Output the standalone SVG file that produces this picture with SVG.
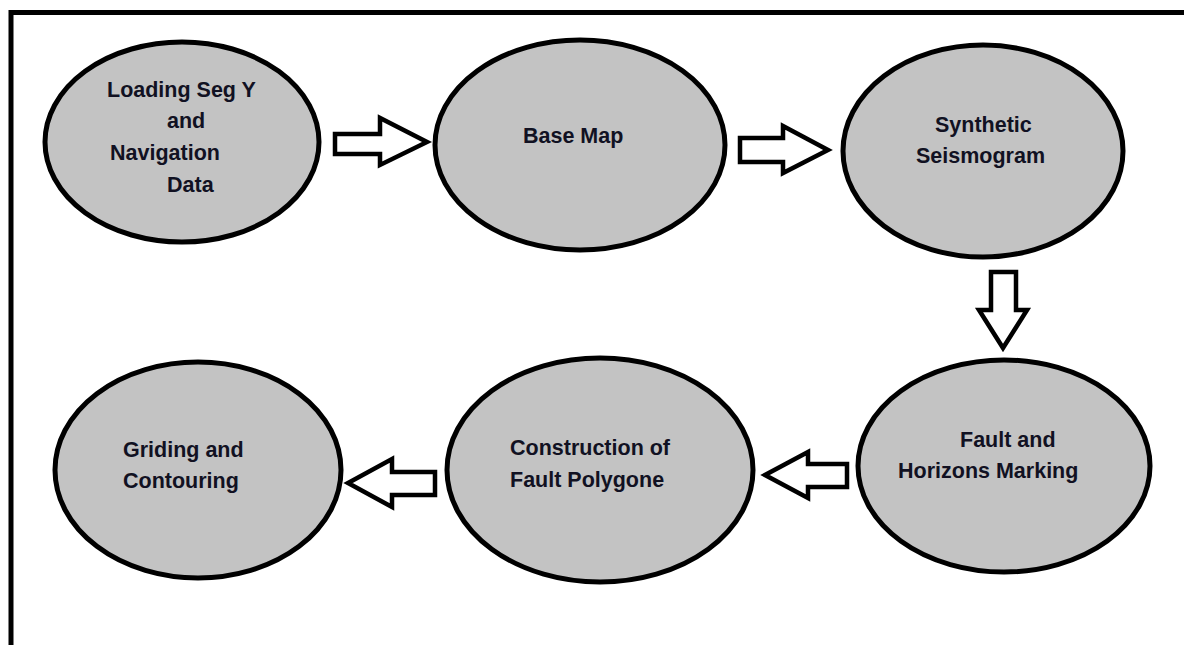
<svg xmlns="http://www.w3.org/2000/svg" width="1184" height="645" viewBox="0 0 1184 645">
<style>
.node ellipse{fill:#c3c3c3;stroke:#000;stroke-width:5}
.node text{font-family:"Liberation Sans",Arial,sans-serif;font-weight:bold;font-size:21.5px;fill:#111122}
.arrow{fill:#fff;stroke:#000;stroke-width:4.5;stroke-linejoin:miter}
</style>
<rect width="1184" height="645" fill="#fff"/>
<path d="M11,645 V12.5 H1184" fill="none" stroke="#000" stroke-width="5"/>
<g id="n1" class="node">
<ellipse cx="182" cy="142" rx="137" ry="100"/>
<text x="107" y="97">Loading Seg Y</text>
<text x="167" y="128">and</text>
<text x="110" y="160">Navigation</text>
<text x="167" y="192">Data</text>
</g>
<g id="n2" class="node">
<ellipse cx="580" cy="145" rx="145" ry="105"/>
<text x="523" y="143">Base Map</text>
</g>
<g id="n3" class="node">
<ellipse cx="983" cy="151" rx="140" ry="106"/>
<text x="935" y="132">Synthetic</text>
<text x="916" y="163">Seismogram</text>
</g>
<g id="n4" class="node">
<ellipse cx="1004" cy="466" rx="146" ry="106"/>
<text x="960" y="447">Fault and</text>
<text x="898" y="478">Horizons Marking</text>
</g>
<g id="n5" class="node">
<ellipse cx="600" cy="470" rx="153" ry="112"/>
<text x="510" y="455">Construction of</text>
<text x="510" y="487">Fault Polygone</text>
</g>
<g id="n6" class="node">
<ellipse cx="198" cy="470" rx="143" ry="108"/>
<text x="123" y="457">Griding and</text>
<text x="123" y="488">Contouring</text>
</g>
<g id="connectors">
<polygon class="arrow" points="335,134 380,134 380,118 427,142 380,165 380,154 335,154"/>
<polygon class="arrow" points="740,138 783,138 783,126 828,150 783,173 783,162 740,162"/>
<polygon class="arrow" points="991,272 1016,272 1016,310 1027,310 1003,348 979,310 991,310"/>
<polygon class="arrow" points="847,464 808,464 808,452 765,475 808,498 808,487 847,487"/>
<polygon class="arrow" points="435,472 392,472 392,459 348,483 392,507 392,495 435,495"/>
</g>
</svg>
